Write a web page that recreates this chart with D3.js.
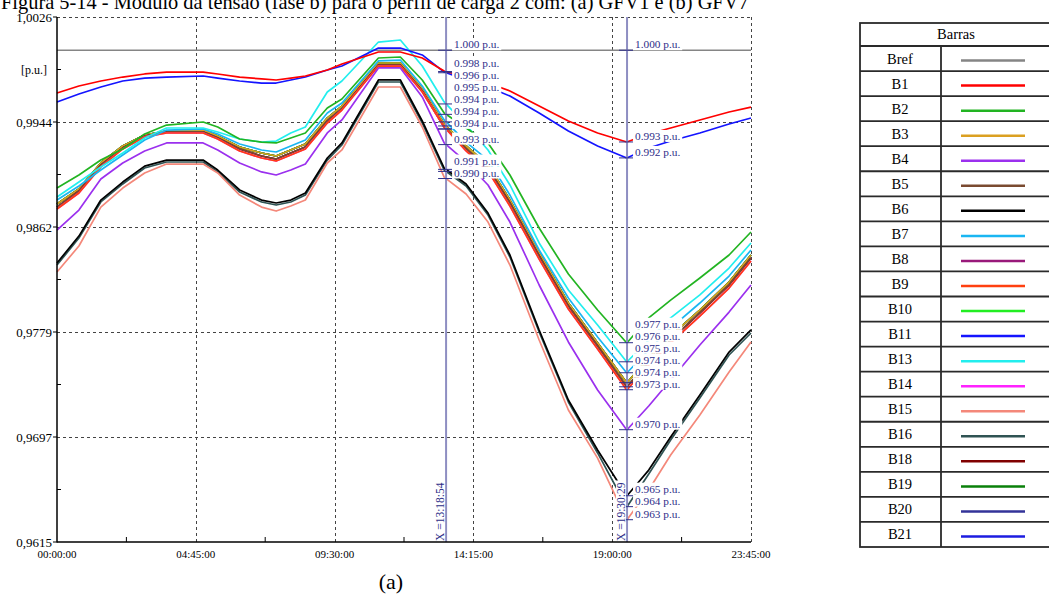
<!DOCTYPE html>
<html><head><meta charset="utf-8">
<script src="https://cdn.jsdelivr.net/npm/d3@7"></script>
<style>
body{margin:0;background:#fff;}
svg{display:block;font-family:"Liberation Serif","Times New Roman",Times,serif;}
</style>
</head><body>
<svg id="c" width="1049" height="599"></svg>
<script>
// ---------- DATA ----------
const times = ["00:00","00:45","01:30","02:15","03:00","03:45","05:00","05:30","06:15","07:00","07:30","08:00","08:30","09:15","09:45","11:00","11:45","12:30","13:15","14:00","14:45","15:30","16:30","17:30","18:30","19:30","20:15","21:00","22:00","23:00","23:45"];
const refValue = 1.000; // Bref
const B1  = [0.99665,0.99720,0.99759,0.99790,0.99814,0.99829,0.99829,0.99814,0.99790,0.99775,0.99767,0.99782,0.99798,0.99845,0.99892,0.99986,0.99986,0.99939,0.99837,0.99790,0.99743,0.99681,0.99563,0.99446,0.99352,0.99281,0.99344,0.99391,0.99454,0.99516,0.99555];
const B11 = [0.99595,0.99657,0.99712,0.99759,0.99782,0.99790,0.99798,0.99782,0.99759,0.99743,0.99743,0.99767,0.99790,0.99845,0.99876,1.00017,1.00017,0.99963,0.99829,0.99767,0.99712,0.99641,0.99508,0.99367,0.99250,0.99156,0.99234,0.99289,0.99352,0.99422,0.99469];
const B2  = [0.98921,0.99023,0.99140,0.99227,0.99344,0.99414,0.99438,0.99399,0.99305,0.99281,0.99274,0.99313,0.99352,0.99548,0.99618,0.99939,0.99947,0.99767,0.99508,0.99391,0.99274,0.99023,0.98608,0.98248,0.97966,0.97708,0.97904,0.98044,0.98217,0.98397,0.98577];
const B13 = [0.98851,0.98968,0.99086,0.99195,0.99313,0.99391,0.99391,0.99360,0.99305,0.99281,0.99289,0.99352,0.99399,0.99673,0.99759,1.00064,1.00080,0.99876,0.99595,0.99414,0.99219,0.98945,0.98491,0.98123,0.97849,0.97559,0.97731,0.97904,0.98084,0.98295,0.98491];
const B7  = [0.98827,0.98937,0.99062,0.99180,0.99297,0.99375,0.99383,0.99344,0.99266,0.99219,0.99203,0.99250,0.99297,0.99508,0.99587,0.99916,0.99923,0.99720,0.99454,0.99281,0.99140,0.98866,0.98436,0.98060,0.97755,0.97473,0.97653,0.97825,0.98021,0.98232,0.98436];
const groupX = [0.98796,0.98913,0.99117,0.99250,0.99336,0.99367,0.99375,0.99328,0.99242,0.99195,0.99172,0.99219,0.99266,0.99469,0.99563,0.99900,0.99900,0.99696,0.99422,0.99250,0.99101,0.98827,0.98412,0.98021,0.97708,0.97395,0.97590,0.97763,0.97966,0.98185,0.98397];
const groupY = [0.98772,0.98898,0.99101,0.99234,0.99328,0.99360,0.99360,0.99313,0.99227,0.99172,0.99148,0.99195,0.99242,0.99446,0.99540,0.99884,0.99884,0.99681,0.99399,0.99227,0.99078,0.98804,0.98389,0.97997,0.97684,0.97363,0.97559,0.97731,0.97943,0.98162,0.98373];
const groupZ = [0.98757,0.98882,0.99086,0.99227,0.99321,0.99352,0.99352,0.99305,0.99211,0.99156,0.99133,0.99180,0.99227,0.99430,0.99532,0.99876,0.99876,0.99673,0.99399,0.99211,0.99054,0.98780,0.98365,0.97974,0.97661,0.97340,0.97536,0.97708,0.97919,0.98138,0.98350];
const B4  = [0.98592,0.98749,0.98992,0.99117,0.99211,0.99274,0.99274,0.99219,0.99117,0.99047,0.99023,0.99062,0.99109,0.99352,0.99454,0.99861,0.99861,0.99634,0.99274,0.99125,0.98945,0.98655,0.98162,0.97716,0.97340,0.97027,0.97215,0.97418,0.97692,0.97950,0.98162];
const B6  = [0.98334,0.98545,0.98827,0.98968,0.99093,0.99140,0.99140,0.99062,0.98906,0.98827,0.98804,0.98827,0.98882,0.99156,0.99274,0.99767,0.99767,0.99446,0.99078,0.98953,0.98725,0.98397,0.97810,0.97262,0.96870,0.96510,0.96713,0.96972,0.97301,0.97637,0.97810];
const B16 = [0.98318,0.98530,0.98812,0.98953,0.99078,0.99125,0.99125,0.99047,0.98890,0.98812,0.98788,0.98812,0.98866,0.99140,0.99258,0.99751,0.99751,0.99430,0.99062,0.98937,0.98710,0.98381,0.97794,0.97246,0.96847,0.96424,0.96682,0.96948,0.97277,0.97614,0.97786];
const B15 = [0.98264,0.98467,0.98772,0.98921,0.99039,0.99109,0.99109,0.99039,0.98866,0.98772,0.98741,0.98780,0.98827,0.99117,0.99219,0.99712,0.99712,0.99399,0.99007,0.98874,0.98655,0.98318,0.97731,0.97183,0.96807,0.96322,0.96557,0.96831,0.97144,0.97481,0.97716];

const legendNames  = ["Bref","B1","B2","B3","B4","B5","B6","B7","B8","B9","B10","B11","B13","B14","B15","B16","B18","B19","B20","B21"];
const legendColors = ["#858585","#ff0000","#22b422","#dba021","#9b30ee","#7a4a30","#000000","#1ab6f2","#99197a","#ff4010","#22ee22","#1414ff","#22eeee","#ff22ff","#f4887a","#2f5353","#800000","#0a800a","#333399","#1c1ce0"];
const seriesData = {B1:B1,B2:B2,B3:groupX,B4:B4,B5:groupY,B6:B6,B7:B7,B8:groupY,B9:groupZ,B10:groupX,B11:B11,B13:B13,B14:groupZ,B15:B15,B16:B16,B18:groupY,B19:groupX,B20:groupX,B21:groupX};
const drawOrder = ["B20","B21","B10","B19","B3","B8","B18","B5","B14","B9","B7","B13","B2","B4","B16","B15","B6","B11","B1"];

const xTickLabels = ["00:00:00","04:45:00","09:30:00","14:15:00","19:00:00","23:45:00"];
const yTickLabels = ["0,9615","0,9697","0,9779","0,9862","0,9944","1,0026"];
const unitLabel = "[p.u.]";
const cursorTimes = ["13:18:54","19:30:29"];
const titleText = "Figura 5-14 - Módulo da tensão (fase b) para o perfil de carga 2 com: (a) GFV1 e (b) GFV7";
const subLabel = "(a)";
const legendHeader = "Barras";

// ---------- HELPERS ----------
const toH = s => { const p = s.split(":").map(Number); return p[0] + (p[1]||0)/60 + (p[2]||0)/3600; };
const T = times.map(toH);
const svg = d3.select("#c");
const x = d3.scaleLinear().domain([0, toH(xTickLabels[xTickLabels.length-1])]).range([57, 751]);
const y = d3.scaleLinear().domain([0.9615, 1.0026]).range([542, 17]);
const yDom = y.domain();
const yTickVals = yTickLabels.map((d,i)=> yDom[0] + i*(yDom[1]-yDom[0])/(yTickLabels.length-1));
const xTickVals = xTickLabels.map(toH);
const navy = "#2d2d88";

// title
const title = svg.append("text").attr("x",1).attr("y",9).attr("font-size",21).attr("fill","#000").text(titleText);
const tl = title.node().getComputedTextLength();
title.attr("font-size", 21*748/tl);

// grid
const grid = svg.append("g").attr("stroke","#444").attr("stroke-width",1).attr("stroke-dasharray","3,3");
xTickVals.slice(1).forEach(h=>{
  grid.append("line").attr("x1",Math.round(x(h))+0.5).attr("x2",Math.round(x(h))+0.5).attr("y1",y.range()[1]).attr("y2",y.range()[0]);
});
yTickVals.slice(1).forEach(v=>{
  grid.append("line").attr("x1",x.range()[0]).attr("x2",x.range()[1]).attr("y1",Math.round(y(v))+0.5).attr("y2",Math.round(y(v))+0.5);
});

// Bref line
svg.append("line").attr("x1",x.range()[0]).attr("x2",x.range()[1]).attr("y1",y(refValue)).attr("y2",y(refValue))
  .attr("stroke",legendColors[0]).attr("stroke-width",1.4);

// series lines
const line = d3.line().x((d,i)=>x(T[i])).y(d=>y(d));
const colorOf = n => legendColors[legendNames.indexOf(n)];
drawOrder.forEach(n=>{
  svg.append("path").attr("d",line(seriesData[n])).attr("fill","none")
    .attr("stroke",colorOf(n)).attr("stroke-width",1.7).attr("stroke-linejoin","round");
});

// interpolation at cursor
function valueAt(arr,h){
  for(let i=0;i<T.length-1;i++){
    if(h>=T[i] && h<=T[i+1]){ const f=(h-T[i])/(T[i+1]-T[i]); return arr[i]+(arr[i+1]-arr[i])*f; }
  }
  return arr[arr.length-1];
}

// cursors
const uniqueArrays = [B1,B11,B2,B13,B7,groupX,groupY,groupZ,B4,B6,B16,B15];
cursorTimes.forEach(ct=>{
  const h = toH(ct), cx = x(h);
  svg.append("line").attr("x1",cx).attr("x2",cx).attr("y1",y.range()[1]).attr("y2",y.range()[0])
    .attr("stroke","#8e8ec2").attr("stroke-width",2);
  const vals = [refValue].concat(uniqueArrays.map(a=>valueAt(a,h)));
  const items = vals.map(v=>({v:v,py:y(v)})).sort((a,b)=>a.py-b.py);
  items.forEach(it=>{
    svg.append("line").attr("x1",cx-8).attr("x2",cx+6).attr("y1",it.py).attr("y2",it.py).attr("stroke",navy).attr("stroke-width",1);
  });
  const kept=[];
  items.forEach(it=>{ if(!kept.length || it.py-kept[kept.length-1].py>=2.5) kept.push(it); });
  for(let i=kept.length-1;i>=0;i--){
    let c = kept[i].py-6;
    if(i<kept.length-1) c=Math.min(c,kept[i+1].ly-12);
    kept[i].ly=c;
  }
  kept.forEach(it=>{
    const g=svg.append("g");
    const r=g.append("rect").attr("fill","#fff");
    const t=g.append("text").attr("x",cx+8).attr("y",it.ly+4).attr("font-size",11.3).attr("fill",navy)
      .text(it.v.toFixed(3)+" p.u.");
    const w=t.node().getComputedTextLength();
    r.attr("x",cx+6).attr("y",it.ly-6).attr("width",w+4).attr("height",12);
  });
  // rotated cursor label
  const g=svg.append("g").attr("transform",`translate(${cx-2},541) rotate(-90)`);
  const r=g.append("rect").attr("fill","#fff");
  const t=g.append("text").attr("x",0).attr("y",0).attr("font-size",11.5).attr("fill",navy).text("X ="+ct);
  const w=t.node().getComputedTextLength();
  r.attr("x",-1).attr("y",-9).attr("width",w+3).attr("height",10);
});

// axes
const ax = svg.append("g").attr("stroke","#000");
ax.append("line").attr("x1",57).attr("x2",57).attr("y1",y.range()[1]).attr("y2",y.range()[0]+0.5).attr("stroke-width",1.5);
ax.append("line").attr("x1",57).attr("x2",x.range()[1]).attr("y1",y.range()[0]).attr("y2",y.range()[0]).attr("stroke-width",1.5);
yTickVals.forEach(v=>{ ax.append("line").attr("x1",53).attr("x2",57).attr("y1",y(v)).attr("y2",y(v)); });
for(let i=0;i<yTickVals.length-1;i++){
  const m=(yTickVals[i]+yTickVals[i+1])/2;
  ax.append("line").attr("x1",57).attr("x2",61).attr("y1",y(m)).attr("y2",y(m));
}
for(let i=0;i<xTickVals.length-1;i++){
  const m=(xTickVals[i]+xTickVals[i+1])/2;
  ax.append("line").attr("x1",x(m)).attr("x2",x(m)).attr("y1",y.range()[0]).attr("y2",y.range()[0]-5);
}
yTickLabels.forEach((s,i)=>{
  svg.append("text").attr("x",52).attr("y",y(yTickVals[i])+4.5).attr("text-anchor","end").attr("font-size",13).text(s);
});
svg.append("text").attr("x",47).attr("y",y((yTickVals[4]+yTickVals[5])/2)+4).attr("text-anchor","end").attr("font-size",12).text(unitLabel);
xTickLabels.forEach((s,i)=>{
  svg.append("text").attr("x",x(xTickVals[i])).attr("y",558).attr("text-anchor","middle").attr("font-size",11).text(s);
});
svg.append("text").attr("x",391).attr("y",589).attr("text-anchor","middle").attr("font-size",22).text(subLabel);

// legend table
const L={x0:860,x1:1052,top:23,head:46,bottom:547,div:941};
const rowH=(L.bottom-L.head)/legendNames.length;
const lg=svg.append("g");
lg.append("rect").attr("x",L.x0).attr("y",L.top).attr("width",L.x1-L.x0).attr("height",L.bottom-L.top)
  .attr("fill","#fff").attr("stroke","#2a2a2a").attr("stroke-width",1.8);
lg.append("line").attr("x1",L.div).attr("x2",L.div).attr("y1",L.head).attr("y2",L.bottom).attr("stroke","#2a2a2a").attr("stroke-width",1.8);
lg.append("text").attr("x",(L.x0+L.x1)/2).attr("y",L.top+16).attr("text-anchor","middle").attr("font-size",14.5).text(legendHeader);
legendNames.forEach((n,i)=>{
  const ry=L.head+i*rowH;
  lg.append("line").attr("x1",L.x0).attr("x2",L.x1).attr("y1",ry).attr("y2",ry).attr("stroke","#2a2a2a").attr("stroke-width",1.8);
  lg.append("text").attr("x",900).attr("y",ry+rowH/2+5).attr("text-anchor","middle").attr("font-size",14.5).text(n);
  lg.append("line").attr("x1",961).attr("x2",1025).attr("y1",ry+rowH/2+2).attr("y2",ry+rowH/2+2)
    .attr("stroke",legendColors[i]).attr("stroke-width",2.5);
});
</script>
</body></html>
